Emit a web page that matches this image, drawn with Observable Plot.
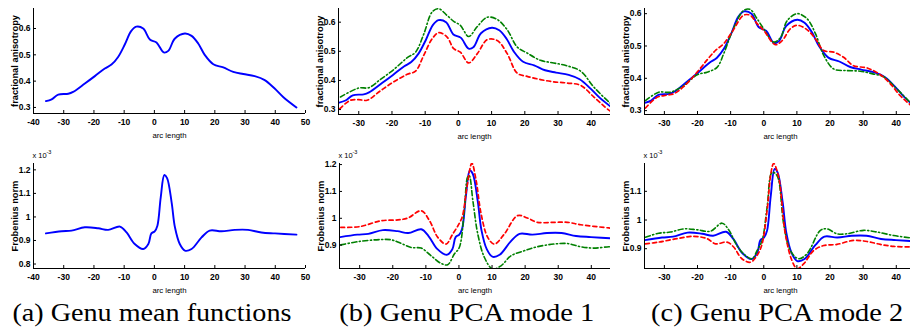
<!DOCTYPE html>
<html>
<head>
<meta charset="utf-8">
<script src="https://cdn.jsdelivr.net/npm/d3@7"></script>
<script src="https://cdn.jsdelivr.net/npm/@observablehq/plot@0.6"></script>
<style>
  html, body { margin: 0; padding: 0; background: #fff; }
  #fig { position: relative; width: 910px; height: 330px; overflow: hidden; background: #fff; }
  .panel { position: absolute; }
  .panel svg text { font-weight: bold; }
  .panel svg text.normal, .panel svg g.normal text { font-weight: normal; }
</style>
</head>
<body>
<div id="fig"></div>
<script>
// ---------- data ----------
// Fractional anisotropy: mean function
const faMeanX = [-35.9,-34.0,-31.8,-28.5,-26.9,-23,-19.7,-16.4,-14.2,-12,-9.8,-7.7,-6,-3.7,-1.5,0.7,3.1,4.6,6.8,10.1,12.3,14.5,16.7,19.5,22.8,26.1,29.4,33.2,36.5,39.8,42.6,47];
const faMean  = [0.324,0.331,0.349,0.352,0.359,0.391,0.419,0.448,0.463,0.492,0.539,0.590,0.607,0.600,0.558,0.547,0.509,0.515,0.562,0.581,0.572,0.543,0.499,0.464,0.452,0.435,0.427,0.419,0.404,0.372,0.340,0.300];
// FA, PCA mode 1 (green dash-dot / red dashed)
const faM1GreenX = [-35.5,-30,-27,-23.5,-19.5,-15.4,-12.9,-10.4,-7.9,-5.9,-3.4,-1.4,0.6,3.1,5.7,8.7,11.7,14.7,17.7,20.7,24.7,28.7,32.8,36.8,40.8,45.3,47];
const faM1Green  = [0.343,0.374,0.375,0.403,0.437,0.478,0.497,0.560,0.635,0.646,0.623,0.603,0.589,0.551,0.585,0.617,0.609,0.574,0.515,0.494,0.469,0.460,0.450,0.432,0.377,0.326,0.310];
const faM1RedX = [-35.7,-32.5,-30,-27.5,-23.5,-19.5,-15.4,-12.9,-10.4,-7.9,-5.9,-3.4,-1.4,0.6,3.1,5.7,8.7,11.7,14.7,17.7,20.7,24.7,28.7,32.8,36.8,40.8,45.3,47];
const faM1Red  = [0.303,0.332,0.334,0.332,0.364,0.395,0.421,0.432,0.487,0.543,0.564,0.549,0.509,0.497,0.460,0.492,0.540,0.537,0.492,0.425,0.414,0.403,0.395,0.391,0.383,0.343,0.298,0.285];
// FA, PCA mode 2
const faM2GreenX = [-35.7,-31.7,-28.2,-24.2,-20.1,-17.1,-14.1,-12.1,-9.6,-6.1,-4.1,-2,0,3,5.1,7.1,10.1,13.1,15.6,18.1,21.1,25.1,29.1,33.2,36.2,39.2,42.2,44.2,47];
const faM2Green  = [0.331,0.357,0.357,0.377,0.411,0.419,0.434,0.476,0.543,0.610,0.613,0.584,0.553,0.512,0.527,0.579,0.600,0.584,0.538,0.471,0.429,0.424,0.422,0.413,0.405,0.377,0.346,0.325,0.290];
const faM2RedX = [-35.7,-32.2,-29.2,-27.2,-24.2,-20.1,-17.1,-14.6,-12.1,-9.6,-6.1,-4.1,-2,0,3.5,5.6,8,10.1,13.1,15.6,18.1,21.1,24.1,27.1,31.2,35.2,38.2,41.2,44.2,47];
const faM2Red  = [0.308,0.341,0.348,0.352,0.374,0.419,0.457,0.486,0.507,0.543,0.595,0.595,0.569,0.548,0.504,0.517,0.553,0.564,0.550,0.522,0.486,0.481,0.465,0.439,0.432,0.411,0.383,0.346,0.318,0.290];
// Frobenius norm (x 10^-3): mean function
const frMeanX = [-35.9,-30.7,-27.4,-23,-18.6,-15.3,-11.4,-9.2,-6.5,-3.7,-2,-1,0.1,1,2.1,3.3,4.2,5.7,6.8,8.4,10.1,12.3,15.6,18.3,22.2,26.6,31,35.4,39.9,47];
const frMean  = [0.930,0.939,0.942,0.956,0.952,0.945,0.959,0.934,0.885,0.864,0.885,0.930,0.939,0.963,1.083,1.178,1.165,1.062,0.956,0.885,0.857,0.864,0.913,0.942,0.939,0.945,0.945,0.934,0.930,0.925];
// Frobenius, PCA mode 1
const frM1RedX = [-35.7,-30,-23.5,-18.4,-15.4,-11.4,-8.9,-6.4,-3.9,-1.9,0.1,1.1,2.4,3.9,5.2,6.7,8.7,10.7,13.7,17.7,20.7,23.7,28.7,32.8,36.8,45.3,47];
const frM1Red  = [0.966,0.969,0.991,0.994,1.001,1.028,0.991,0.929,0.904,0.941,0.981,1.010,1.115,1.205,1.140,1.016,0.929,0.904,0.941,1.010,1.001,0.985,0.985,0.985,0.976,0.964,0.962];
const frM1GreenX = [-35.7,-30,-23.5,-20.5,-17.4,-14.4,-11.4,-8.4,-5.4,-3.4,-1.4,0.1,1.6,2.6,3.1,4.2,5.7,7.7,10.2,12.7,15.7,19.7,23.7,28.7,32.8,36.8,40.8,45.3,47];
const frM1Green  = [0.901,0.914,0.921,0.920,0.906,0.891,0.889,0.860,0.832,0.827,0.867,0.891,1.028,1.153,1.159,1.066,0.941,0.854,0.811,0.823,0.860,0.879,0.894,0.904,0.906,0.894,0.889,0.894,0.894];
// Frobenius, PCA mode 2
const frM2GreenX = [-35.7,-31.7,-28.2,-24.2,-20.1,-16.1,-12.6,-10.6,-8.1,-5.6,-3.5,-2,-0.5,1,2.5,4,6,8,10.5,13.1,17.1,19.1,22.1,25.1,30.1,34.2,39.2,44.2,47];
const frM2Green  = [0.940,0.954,0.958,0.969,0.966,0.961,0.989,0.966,0.911,0.877,0.865,0.894,0.929,1.044,1.166,1.155,0.987,0.894,0.865,0.883,0.964,0.969,0.952,0.952,0.964,0.958,0.946,0.938,0.935];
const frM2RedX = [-35.7,-31.7,-26.2,-21.2,-17.1,-14.6,-11.1,-9.1,-6.6,-4,-2,-0.5,1,2.2,3,4.5,6.5,8.5,10.1,12.1,15.1,18.1,22.1,27.1,31.2,35.2,39.2,44.2,47];
const frM2Red  = [0.917,0.923,0.935,0.943,0.935,0.917,0.923,0.906,0.865,0.853,0.877,0.917,1.033,1.166,1.197,1.149,0.952,0.859,0.830,0.848,0.894,0.911,0.915,0.929,0.925,0.915,0.908,0.906,0.905];

// tick values
const xTicksWide = [-40,-30,-20,-10,0,10,20,30,40,50];
const xTicksTight = [-30,-20,-10,0,10,20,30,40];
const faTicks = [0.3,0.4,0.5,0.6];
const frTicksA = [0.8,0.9,1,1.1,1.2];
const frTicksB = [0.9,1,1.1,1.2];
const frTicksC = [0.9,1,1.1];

// labels
const faLabel = "fractional anisotropy";
const frLabel = "Frobenius norm";
const xLabel = "arc length";
const captions = ["(a) Genu mean functions", "(b) Genu PCA mode 1", "(c) Genu PCA mode 2"];

// ---------- drawing ----------
const BLUE = "#0000ff", RED = "#ff0000", GREEN = "#008000";
const rows = (xa, ya) => xa.map((x, i) => ({x, y: ya[i]}));
const blue  = (xa, ya) => ({data: rows(xa, ya), stroke: BLUE, strokeWidth: 1.9, dash: null});
const red   = (xa, ya) => ({data: rows(xa, ya), stroke: RED, strokeWidth: 1.7, dash: "4,3"});
const green = (xa, ya) => ({data: rows(xa, ya), stroke: GREEN, strokeWidth: 1.6, dash: "5,2.5,1.2,2.5"});

const fig = document.getElementById("fig");
const fmt = d => (d < 0 ? "-" + (-d) : String(+d.toFixed(2)));

function panel(cfg) {
  const {L, T, R, B, xdom, ydom, xticks, yticks, series, ylabel, exponent} = cfg;
  const ml = 44, mr = 4, mt = 18, mb = 30;
  const W = R - L, H = B - T;
  const marks = [
    ...series.map(s => Plot.line(s.data, {x: "x", y: "y", stroke: s.stroke, strokeWidth: s.strokeWidth,
      strokeDasharray: s.dash, curve: "catmull-rom", clip: true})),
    Plot.ruleX([xdom[0]], {stroke: "#000", strokeWidth: 1}),
    Plot.ruleY([ydom[0]], {stroke: "#000", strokeWidth: 1}),
    Plot.tickX(xticks, {x: d => d, insetTop: H - 3, stroke: "#000"}),
    Plot.tickY(yticks, {y: d => d, insetRight: W - 3, stroke: "#000"}),
    Plot.axisX({ticks: xticks, tickSize: 0, tickPadding: 5, tickFormat: fmt, label: null, fontSize: 8.5}),
    Plot.axisY({ticks: yticks, tickSize: 0, tickPadding: 3, tickFormat: fmt, label: null, fontSize: 8.5}),
    Plot.text([ylabel], {frameAnchor: "left", rotate: -90, dx: -18, textAnchor: "middle", lineAnchor: "middle", fontSize: 9.3}),
    Plot.text([xLabel], {frameAnchor: "bottom", dy: 22, textAnchor: "middle", lineAnchor: "middle", fontSize: 7.8, className: "normal"})
  ];
  if (exponent) {
    marks.push(Plot.text(["x 10"], {frameAnchor: "top-left", dx: -1, dy: -8, textAnchor: "start", lineAnchor: "middle", fontSize: 7.5, className: "normal"}));
    marks.push(Plot.text(["-3"], {frameAnchor: "top-left", dx: 13, dy: -11, textAnchor: "start", lineAnchor: "middle", fontSize: 5.5, className: "normal"}));
  }
  const svg = Plot.plot({
    width: W + ml + mr, height: H + mt + mb,
    marginLeft: ml, marginRight: mr, marginTop: mt, marginBottom: mb,
    style: {background: "transparent", maxWidth: "none", overflow: "visible", fontFamily: "'Liberation Sans', Arial, sans-serif", color: "#000"},
    x: {domain: xdom},
    y: {domain: ydom},
    marks
  });
  const wrap = document.createElement("div");
  wrap.className = "panel";
  wrap.style.left = (L - ml) + "px";
  wrap.style.top = (T - mt) + "px";
  wrap.style.width = (W + ml + mr) + "px";
  wrap.appendChild(svg);
  fig.appendChild(wrap);
}

// top row: fractional anisotropy
panel({L: 33, T: 8, R: 305, B: 113, xdom: [-40, 50], ydom: [0.277, 0.676], xticks: xTicksWide, yticks: faTicks,
  ylabel: faLabel, series: [blue(faMeanX, faMean)]});
panel({L: 338, T: 8, R: 610, B: 114, xdom: [-36.1, 45.8], ydom: [0.283, 0.647], xticks: xTicksTight, yticks: faTicks,
  ylabel: faLabel, series: [blue(faMeanX, faMean), green(faM1GreenX, faM1Green), red(faM1RedX, faM1Red)]});
panel({L: 644, T: 8, R: 916, B: 114, xdom: [-36.0, 46.1], ydom: [0.288, 0.616], xticks: xTicksTight, yticks: faTicks,
  ylabel: faLabel, series: [blue(faMeanX, faMean), green(faM2GreenX, faM2Green), red(faM2RedX, faM2Red)]});
// bottom row: Frobenius norm
panel({L: 33, T: 163, R: 305, B: 268, xdom: [-40, 50], ydom: [0.781, 1.227], xticks: xTicksWide, yticks: frTicksA,
  ylabel: frLabel, exponent: true, series: [blue(frMeanX, frMean)]});
panel({L: 339, T: 163, R: 610, B: 268, xdom: [-36.1, 45.8], ydom: [0.813, 1.204], xticks: xTicksTight, yticks: frTicksB,
  ylabel: frLabel, exponent: true, series: [blue(frMeanX, frMean), green(frM1GreenX, frM1Green), red(frM1RedX, frM1Red)]});
panel({L: 644, T: 163, R: 916, B: 268, xdom: [-36.0, 46.1], ydom: [0.831, 1.197], xticks: xTicksTight, yticks: frTicksC,
  ylabel: frLabel, exponent: true, series: [blue(frMeanX, frMean), green(frM2GreenX, frM2Green), red(frM2RedX, frM2Red)]});

// captions
const capCenters = [151.5, 466.5, 777];
const capWidths = [279, 255, 252];
captions.forEach((t, i) => {
  const d = document.createElement("div");
  d.textContent = t;
  Object.assign(d.style, {
    position: "absolute", fontFamily: "'Liberation Serif', serif", fontSize: "25px", lineHeight: "25px",
    whiteSpace: "nowrap", color: "#000", transformOrigin: "50% 50%", fontWeight: "normal"
  });
  fig.appendChild(d);
  const w = d.getBoundingClientRect().width;
  const k = capWidths[i] / w;
  d.style.left = (capCenters[i] - w / 2) + "px";
  d.style.top = "300px";
  d.style.transform = `scaleX(${k})`;
});
</script>
</body>
</html>
